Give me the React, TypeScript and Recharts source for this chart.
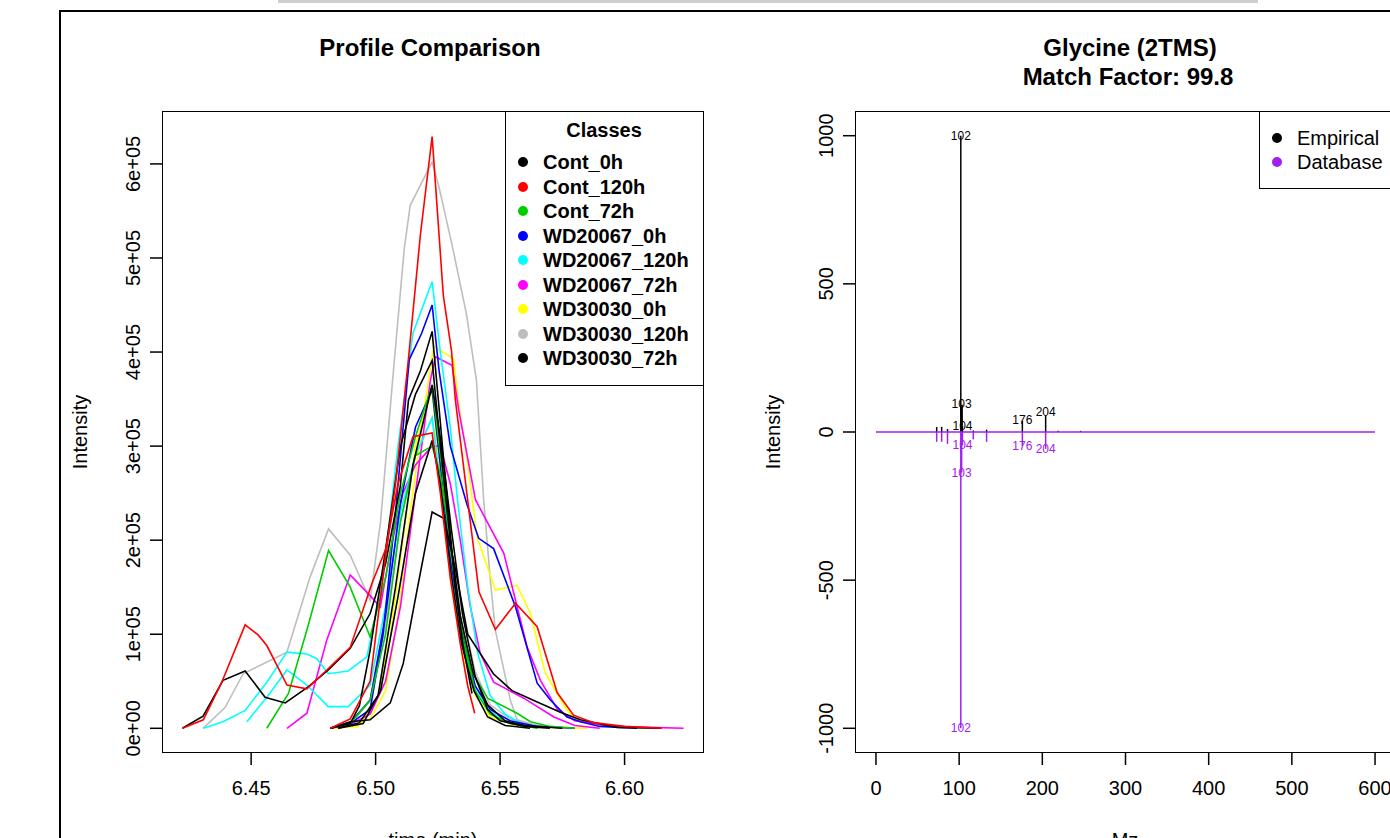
import React from 'react';
import {
  LineChart,
  Line,
  ComposedChart,
  Scatter,
  ReferenceLine,
  XAxis,
  YAxis,
} from 'recharts';

// ── Fonts / colours ───────────────────────────────────────────────────────────

const FONT = '"Liberation Sans", Arial, Helvetica, sans-serif';
const PURPLE = '#A020F0';

// ── Profile comparison data (time in min, intensity) ─────────────────────────

const classNames = [
  'Cont_0h',
  'Cont_120h',
  'Cont_72h',
  'WD20067_0h',
  'WD20067_120h',
  'WD20067_72h',
  'WD30030_0h',
  'WD30030_120h',
  'WD30030_72h',
];
const classColors = [
  '#000000',
  '#FF0000',
  '#00CD00',
  '#0000FF',
  '#00FFFF',
  '#FF00FF',
  '#FFFF00',
  '#BEBEBE',
  '#000000',
];

type Pair = [number, number];

const cont0hA: Pair[] = [
  [6.4224, 0], [6.4307, 0.13e5], [6.4387, 0.51e5], [6.4476, 0.61e5], [6.4556, 0.33e5],
  [6.4637, 0.27e5], [6.4729, 0.44e5], [6.481, 0.62e5], [6.4898, 0.85e5], [6.4978, 1.22e5],
  [6.504, 1.75e5], [6.5099, 2.57e5], [6.5132, 3.49e5], [6.518, 3.8e5], [6.5227, 4.22e5],
  [6.5255, 3.4e5], [6.5285, 2.5e5], [6.532, 1.5e5], [6.535, 0.9e5], [6.5387, 0.37e5],
];
const cont0hB: Pair[] = [
  [6.4818, 0], [6.4898, 0.07e5], [6.4978, 0.09e5], [6.5059, 0.27e5], [6.5111, 0.69e5],
  [6.5165, 1.45e5], [6.5227, 2.3e5], [6.5275, 2.23e5], [6.532, 1.7e5], [6.537, 1.0e5],
  [6.5473, 0.58e5], [6.5548, 0.4e5], [6.5649, 0.28e5], [6.5742, 0.17e5], [6.5823, 0.09e5],
  [6.597, 0.01e5], [6.6145, 0],
];
const cont120hA: Pair[] = [
  [6.4224, 0], [6.4308, 0.09e5], [6.4382, 0.49e5], [6.4476, 1.1e5], [6.4529, 0.99e5],
  [6.4563, 0.88e5], [6.4644, 0.46e5], [6.4724, 0.42e5], [6.4804, 0.62e5], [6.4898, 0.86e5],
  [6.4985, 1.54e5], [6.504, 1.9e5], [6.509, 2.6e5], [6.515, 3.1e5], [6.5227, 3.14e5],
  [6.526, 2.5e5], [6.53, 1.6e5], [6.534, 0.9e5], [6.537, 0.45e5], [6.5398, 0.16e5],
];
const cont120hB: Pair[] = [
  [6.4818, 0], [6.4898, 0.1e5], [6.4978, 0.5e5], [6.5035, 1.72e5], [6.508, 2.6e5],
  [6.5132, 3.93e5], [6.518, 5.25e5], [6.5227, 6.29e5], [6.5248, 5.5e5], [6.5272, 4.6e5],
  [6.5305, 4.01e5], [6.532, 3.5e5], [6.5415, 1.45e5], [6.5481, 1.05e5], [6.5562, 1.33e5],
  [6.5649, 1.08e5], [6.5729, 0.38e5], [6.5795, 0.14e5], [6.5875, 0.06e5], [6.6, 0.02e5],
  [6.615, 0],
];
const cont72hA: Pair[] = [
  [6.4563, 0], [6.465, 0.37e5], [6.473, 1.1e5], [6.4811, 1.89e5], [6.4898, 1.5e5],
  [6.4978, 0.97e5], [6.504, 1.6e5], [6.51, 2.5e5], [6.516, 3.1e5], [6.5227, 3.65e5],
  [6.5265, 2.8e5], [6.53, 1.9e5], [6.5345, 1.1e5], [6.5387, 0.6e5], [6.545, 0.32e5],
  [6.5568, 0.16e5], [6.5622, 0.07e5], [6.57, 0.02e5], [6.58, 0],
];
const cont72hB: Pair[] = [
  [6.4818, 0], [6.4898, 0.05e5], [6.4978, 0.3e5], [6.504, 1.0e5], [6.51, 2.2e5],
  [6.516, 2.9e5], [6.5227, 3.0e5], [6.526, 2.7e5], [6.53, 2.0e5], [6.5345, 1.0e5],
  [6.54, 0.4e5], [6.546, 0.15e5], [6.554, 0.05e5], [6.565, 0],
];
const wd20067_0hA: Pair[] = [
  [6.4818, 0], [6.4898, 0.05e5], [6.4978, 0.2e5], [6.503, 1.0e5], [6.508, 2.3e5],
  [6.5135, 3.92e5], [6.5185, 4.2e5], [6.5227, 4.5e5], [6.5255, 3.8e5], [6.53, 3.0e5],
  [6.5367, 2.38e5], [6.5414, 2.02e5], [6.5474, 1.91e5], [6.5562, 1.29e5], [6.5649, 0.48e5],
  [6.5702, 0.3e5], [6.5769, 0.12e5], [6.5823, 0.07e5], [6.59, 0.02e5], [6.605, 0],
];
const wd20067_0hB: Pair[] = [
  [6.4818, 0], [6.4898, 0.06e5], [6.4978, 0.3e5], [6.504, 1.2e5], [6.51, 2.4e5],
  [6.516, 3.2e5], [6.5227, 3.6e5], [6.526, 2.8e5], [6.53, 1.8e5], [6.535, 1.0e5],
  [6.54, 0.45e5], [6.546, 0.2e5], [6.554, 0.08e5], [6.565, 0.02e5], [6.58, 0],
];
const wd20067_120hA: Pair[] = [
  [6.4308, 0], [6.4387, 0.07e5], [6.4476, 0.19e5], [6.4563, 0.49e5], [6.4644, 0.81e5],
  [6.4724, 0.79e5], [6.4764, 0.74e5], [6.481, 0.58e5], [6.489, 0.61e5], [6.4965, 0.76e5],
  [6.503, 1.6e5], [6.509, 3.0e5], [6.515, 4.2e5], [6.5227, 4.75e5], [6.526, 4.0e5],
  [6.53, 3.2e5], [6.533, 2.4e5], [6.537, 1.5e5], [6.541, 0.8e5], [6.546, 0.35e5],
  [6.552, 0.15e5], [6.558, 0.06e5], [6.565, 0],
];
const wd20067_120hB: Pair[] = [
  [6.4483, 0.07e5], [6.4563, 0.33e5], [6.4644, 0.62e5], [6.4724, 0.46e5], [6.481, 0.23e5],
  [6.489, 0.23e5], [6.4978, 0.46e5], [6.504, 1.3e5], [6.51, 2.3e5], [6.516, 2.9e5],
  [6.5227, 3.3e5], [6.526, 2.6e5], [6.53, 1.8e5], [6.534, 1.0e5], [6.539, 0.5e5],
  [6.545, 0.2e5], [6.553, 0.06e5], [6.565, 0.02e5],
];
const wd20067_72hA: Pair[] = [
  [6.4644, 0], [6.4724, 0.16e5], [6.4804, 0.94e5], [6.4898, 1.63e5], [6.4978, 1.41e5],
  [6.5019, 1.29e5], [6.506, 1.9e5], [6.511, 2.5e5], [6.516, 2.8e5], [6.5227, 3.0e5],
  [6.526, 3.0e5], [6.53, 2.6e5], [6.534, 2.0e5], [6.538, 1.3e5], [6.542, 0.8e5],
  [6.5474, 0.49e5], [6.5595, 0.32e5], [6.5716, 0.12e5], [6.58, 0.03e5], [6.59, 0],
];
const wd20067_72hB: Pair[] = [
  [6.4818, 0], [6.4898, 0.04e5], [6.4978, 0.15e5], [6.504, 0.5e5], [6.51, 1.3e5],
  [6.516, 2.5e5], [6.522, 3.7e5], [6.524, 3.95e5], [6.5307, 3.86e5], [6.5334, 3.38e5],
  [6.5401, 2.43e5], [6.5515, 1.86e5], [6.5609, 0.86e5], [6.5662, 0.51e5], [6.573, 0.2e5],
  [6.58, 0.08e5], [6.595, 0.02e5], [6.61, 0.01e5], [6.6237, 0],
];
const wd30030_0hA: Pair[] = [
  [6.4818, 0], [6.4898, 0.02e5], [6.4978, 0.1e5], [6.504, 0.4e5], [6.509, 1.2e5],
  [6.514, 2.3e5], [6.519, 3.3e5], [6.5233, 4.06e5], [6.5313, 3.93e5], [6.5332, 3.49e5],
  [6.537, 2.8e5], [6.5408, 2.03e5], [6.5481, 1.47e5], [6.5568, 1.52e5], [6.5622, 1.22e5],
  [6.568, 0.6e5], [6.5729, 0.37e5], [6.5769, 0.19e5], [6.581, 0.09e5], [6.59, 0.03e5],
  [6.6, 0.01e5], [6.61, 0],
];
const wd30030_0hB: Pair[] = [
  [6.4818, 0], [6.493, 0.02e5], [6.501, 0.35e5], [6.506, 1.0e5], [6.511, 2.0e5],
  [6.516, 3.0e5], [6.5227, 3.6e5], [6.526, 2.6e5], [6.53, 1.6e5], [6.535, 0.8e5],
  [6.54, 0.35e5], [6.546, 0.12e5], [6.555, 0.04e5], [6.57, 0.01e5], [6.585, 0],
];
const wd30030_120hA: Pair[] = [
  [6.4307, 0], [6.4395, 0.22e5], [6.4468, 0.58e5], [6.4576, 0.72e5], [6.4644, 0.81e5],
  [6.4737, 1.61e5], [6.4811, 2.12e5], [6.4898, 1.84e5], [6.4978, 1.36e5], [6.502, 2.2e5],
  [6.5065, 3.6e5], [6.5115, 5.1e5], [6.5139, 5.56e5], [6.5227, 6.02e5], [6.5255, 5.75e5],
  [6.5307, 5.14e5], [6.5365, 4.4e5], [6.5405, 3.7e5], [6.5434, 2.43e5], [6.5461, 1.57e5],
  [6.5481, 1.04e5], [6.5541, 0.3e5], [6.5568, 0.09e5], [6.5662, 0.02e5],
];
const wd30030_120hB: Pair[] = [
  [6.4818, 0], [6.4898, 0.03e5], [6.4978, 0.3e5], [6.504, 1.1e5], [6.51, 2.2e5],
  [6.516, 2.9e5], [6.5227, 3.3e5], [6.526, 2.7e5], [6.53, 1.9e5], [6.535, 1.2e5],
  [6.54, 0.6e5], [6.546, 0.25e5], [6.554, 0.1e5], [6.562, 0.04e5], [6.575, 0],
];
const wd30030_72hA: Pair[] = [
  [6.4818, 0], [6.4898, 0.05e5], [6.4935, 0.24e5], [6.4978, 0.83e5], [6.504, 1.9e5],
  [6.51, 3.0e5], [6.516, 3.55e5], [6.5227, 3.91e5], [6.526, 3.0e5], [6.53, 2.0e5],
  [6.534, 1.2e5], [6.539, 0.6e5], [6.545, 0.25e5], [6.552, 0.08e5], [6.56, 0.03e5],
  [6.575, 0],
];
const wd30030_72hB: Pair[] = [
  [6.485, 0], [6.4935, 0.06e5], [6.501, 0.35e5], [6.508, 1.5e5], [6.515, 2.8e5],
  [6.5227, 3.65e5], [6.5265, 3.0e5], [6.5305, 2.1e5], [6.535, 1.2e5], [6.54, 0.55e5],
  [6.545, 0.2e5], [6.55, 0.08e5], [6.56, 0.02e5], [6.57, 0],
];
const wd30030_72hC: Pair[] = [
  [6.485, 0], [6.495, 0.05e5], [6.502, 0.4e5], [6.509, 1.4e5], [6.516, 2.5e5],
  [6.5227, 3.06e5], [6.526, 2.6e5], [6.53, 1.7e5], [6.5345, 0.9e5], [6.5395, 0.4e5],
  [6.545, 0.12e5], [6.552, 0.03e5], [6.562, 0],
];

// drawing order: class index + samples
const profiles: { cls: number; pts: Pair[] }[] = [
  { cls: 7, pts: wd30030_120hA },
  { cls: 7, pts: wd30030_120hB },
  { cls: 6, pts: wd30030_0hA },
  { cls: 6, pts: wd30030_0hB },
  { cls: 5, pts: wd20067_72hA },
  { cls: 5, pts: wd20067_72hB },
  { cls: 4, pts: wd20067_120hA },
  { cls: 4, pts: wd20067_120hB },
  { cls: 3, pts: wd20067_0hA },
  { cls: 3, pts: wd20067_0hB },
  { cls: 2, pts: cont72hA },
  { cls: 2, pts: cont72hB },
  { cls: 8, pts: wd30030_72hA },
  { cls: 8, pts: wd30030_72hB },
  { cls: 8, pts: wd30030_72hC },
  { cls: 0, pts: cont0hA },
  { cls: 0, pts: cont0hB },
  { cls: 1, pts: cont120hA },
  { cls: 1, pts: cont120hB },
];

const timeTicks = [6.45, 6.5, 6.55, 6.6];
const intensityTicks = [0, 1e5, 2e5, 3e5, 4e5, 5e5, 6e5];
const intensityTickLabels = ['0e+00', '1e+05', '2e+05', '3e+05', '4e+05', '5e+05', '6e+05'];

// ── Mass spectrum data ────────────────────────────────────────────────────────

const empiricalMz = [73, 79, 86, 102, 103, 104, 117, 133, 176, 204, 219, 246];
const empiricalInt = [17, 17, 10, 1000, 92, 20, 5, 8, 38, 56, 4, 4];
const databaseMz = [73, 79, 86, 102, 103, 104, 117, 133, 176, 204];
const databaseInt = [-33, -33, -40, -1000, -137, -45, -25, -33, -47, -57];
const empiricalLabelMz = [102, 103, 104, 176, 204];
const empiricalLabelInt = [1000, 95, 20, 40, 66];
const databaseLabelMz = [104, 176, 204, 103, 102];
const databaseLabelInt = [-45, -47, -57, -137, -1000];

const mzTicks = [0, 100, 200, 300, 400, 500, 600];
const specTicks = [-1000, -500, 0, 500, 1000];

// ── Tick renderers ────────────────────────────────────────────────────────────

function XTick(props: any) {
  const { x, y, payload, fmt } = props;
  return (
    <text x={x} y={y} dy={16} textAnchor="middle" fontSize={20} fontFamily={FONT} fill="#000">
      {fmt(payload.value)}
    </text>
  );
}

function YTick(props: any) {
  const { x, y, payload, fmt } = props;
  return (
    <text
      x={x}
      y={y}
      transform={`rotate(-90 ${x} ${y})`}
      textAnchor="middle"
      fontSize={20}
      fontFamily={FONT}
      fill="#000"
    >
      {fmt(payload.value)}
    </text>
  );
}

const fmtTime = (v: number) => v.toFixed(2);
const fmtIntensity = (v: number) => intensityTickLabels[intensityTicks.indexOf(v)] ?? String(v);
const fmtPlain = (v: number) => String(v);

// ── Overlay helpers ───────────────────────────────────────────────────────────

const abs = (s: React.CSSProperties): React.CSSProperties => ({ position: 'absolute', ...s });

function Centered({ x, y, children, size = 20, bold = false, rotate = false, color = '#000' }: any) {
  return (
    <div
      style={abs({
        left: x - 150,
        top: y - size * 0.6,
        width: 300,
        height: size * 1.2,
        lineHeight: `${size * 1.2}px`,
        textAlign: 'center',
        fontSize: size,
        fontWeight: bold ? 'bold' : 'normal',
        fontFamily: FONT,
        color,
        whiteSpace: 'nowrap',
        transform: rotate ? 'rotate(-90deg)' : undefined,
      })}
    >
      {children}
    </div>
  );
}

function Dot({ x, y, color }: { x: number; y: number; color: string }) {
  return (
    <div
      style={abs({
        left: x - 5,
        top: y - 5,
        width: 10,
        height: 10,
        borderRadius: '50%',
        background: color,
      })}
    />
  );
}

// ── Component ─────────────────────────────────────────────────────────────────

export default function App() {
  const empStems = empiricalMz.map((mz, i) => ({ mz, v: empiricalInt[i] }));
  const dbStems = databaseMz.map((mz, i) => ({ mz, v: databaseInt[i] }));
  const empLabels = empiricalLabelMz.map((x, i) => ({ x, y: empiricalLabelInt[i], label: String(x) }));
  const dbLabels = databaseLabelMz.map((x, i) => ({ x, y: databaseLabelInt[i], label: String(x) }));

  const labelShape = (color: string) => (p: any) => (
    <text
      x={p.cx}
      y={p.cy}
      textAnchor="middle"
      dominantBaseline="central"
      fontSize={12}
      fontFamily={FONT}
      fill={color}
    >
      {p.payload.label}
    </text>
  );

  return (
    <div
      style={abs({
        left: 0,
        top: 0,
        width: 1390,
        height: 838,
        overflow: 'hidden',
        background: '#fff',
      })}
    >
      {/* caption remnant and outer frame */}
      <div style={abs({ left: 278, top: 0, width: 980, height: 3, background: '#cfcfcf' })} />
      <div style={abs({ left: 59, top: 10, width: 1400, height: 900, border: '2px solid #000' })} />

      {/* ── Left: profile comparison ── */}
      <div style={abs({ left: 0, top: 0 })}>
        <LineChart width={760} height={838} margin={{ top: 112, right: 57, bottom: 0, left: 0 }}>
          <XAxis
            type="number"
            dataKey="t"
            domain={[6.4146, 6.6315]}
            allowDataOverflow
            ticks={timeTicks}
            axisLine={false}
            tickLine={{ stroke: '#000', strokeWidth: 1.5 }}
            tickSize={13}
            tickMargin={14}
            height={86}
            tick={<XTick fmt={fmtTime} />}
          />
          <YAxis
            type="number"
            domain={[-0.252e5, 6.552e5]}
            allowDataOverflow
            ticks={intensityTicks}
            axisLine={false}
            tickLine={{ stroke: '#000', strokeWidth: 1.5 }}
            tickSize={13}
            tickMargin={10}
            width={163}
            tick={<YTick fmt={fmtIntensity} />}
          />
          {profiles.map((p, i) => (
            <Line
              key={i}
              data={p.pts.map(([t, v]) => ({ t, v }))}
              dataKey="v"
              type="linear"
              stroke={classColors[p.cls]}
              strokeWidth={1.6}
              dot={false}
              activeDot={false}
              isAnimationActive={false}
            />
          ))}
        </LineChart>
      </div>
      <div style={abs({ left: 162, top: 111, width: 542, height: 642, border: '1.5px solid #000', boxSizing: 'border-box' })} />

      {/* left legend */}
      <div
        style={abs({
          left: 505,
          top: 111,
          width: 199,
          height: 275,
          border: '1.5px solid #000',
          boxSizing: 'border-box',
          background: '#fff',
        })}
      />
      <Centered x={604} y={130} bold>
        Classes
      </Centered>
      {classNames.map((name, i) => (
        <React.Fragment key={name}>
          <Dot x={523} y={162 + i * 24.5} color={classColors[i]} />
          <div
            style={abs({
              left: 543,
              top: 162 + i * 24.5 - 12,
              height: 24,
              lineHeight: '24px',
              fontSize: 20,
              fontWeight: 'bold',
              fontFamily: FONT,
              whiteSpace: 'nowrap',
            })}
          >
            {name}
          </div>
        </React.Fragment>
      ))}

      <Centered x={430} y={48} size={24} bold>
        Profile Comparison
      </Centered>
      <Centered x={80} y={432} rotate>
        Intensity
      </Centered>
      <Centered x={433} y={840}>
        time (min)
      </Centered>

      {/* ── Right: mirror spectrum ── */}
      <div style={abs({ left: 760, top: 0 })}>
        <ComposedChart width={640} height={838} margin={{ top: 112, right: 5, bottom: 0, left: 0 }}>
          <XAxis
            type="number"
            dataKey="x"
            domain={[-24, 624]}
            allowDataOverflow
            ticks={mzTicks}
            axisLine={false}
            tickLine={{ stroke: '#000', strokeWidth: 1.5 }}
            tickSize={13}
            tickMargin={14}
            height={86}
            tick={<XTick fmt={fmtPlain} />}
          />
          <YAxis
            type="number"
            dataKey="y"
            domain={[-1080, 1080]}
            allowDataOverflow
            ticks={specTicks}
            axisLine={false}
            tickLine={{ stroke: '#000', strokeWidth: 1.5 }}
            tickSize={13}
            tickMargin={10}
            width={96}
            tick={<YTick fmt={fmtPlain} />}
          />
          {empStems.map((s) => (
            <ReferenceLine
              key={`e${s.mz}`}
              segment={[{ x: s.mz, y: 0 }, { x: s.mz, y: s.v }]}
              stroke="#000"
              strokeWidth={s.mz === 103 ? 2.5 : 1.5}
              ifOverflow="visible"
            />
          ))}
          <ReferenceLine
            segment={[{ x: 0, y: 0 }, { x: 600, y: 0 }]}
            stroke={PURPLE}
            strokeWidth={1.5}
            ifOverflow="visible"
          />
          {dbStems.map((s) => (
            <ReferenceLine
              key={`d${s.mz}`}
              segment={[{ x: s.mz, y: 0 }, { x: s.mz, y: s.v }]}
              stroke={PURPLE}
              strokeWidth={1.5}
              ifOverflow="visible"
            />
          ))}
          <Scatter data={empLabels} shape={labelShape('#000')} isAnimationActive={false} />
          <Scatter data={dbLabels} shape={labelShape(PURPLE)} isAnimationActive={false} />
        </ComposedChart>
      </div>
      <div style={abs({ left: 855, top: 111, width: 600, height: 642, border: '1.5px solid #000', boxSizing: 'border-box' })} />

      {/* right legend */}
      <div
        style={abs({
          left: 1259,
          top: 111,
          width: 200,
          height: 78,
          border: '1.5px solid #000',
          boxSizing: 'border-box',
          background: '#fff',
        })}
      />
      <Dot x={1277} y={138} color="#000" />
      <Dot x={1277} y={162} color={PURPLE} />
      <div style={abs({ left: 1297, top: 126, fontSize: 20, lineHeight: '24px', fontFamily: FONT, whiteSpace: 'nowrap' })}>
        Empirical
      </div>
      <div style={abs({ left: 1297, top: 150, fontSize: 20, lineHeight: '24px', fontFamily: FONT, whiteSpace: 'nowrap' })}>
        Database
      </div>

      <Centered x={1130} y={48} size={24} bold>
        Glycine (2TMS)
      </Centered>
      <Centered x={1128} y={77} size={24} bold>
        Match Factor: 99.8
      </Centered>
      <Centered x={773} y={432} rotate>
        Intensity
      </Centered>
      <Centered x={1125} y={840}>
        Mz
      </Centered>
    </div>
  );
}
